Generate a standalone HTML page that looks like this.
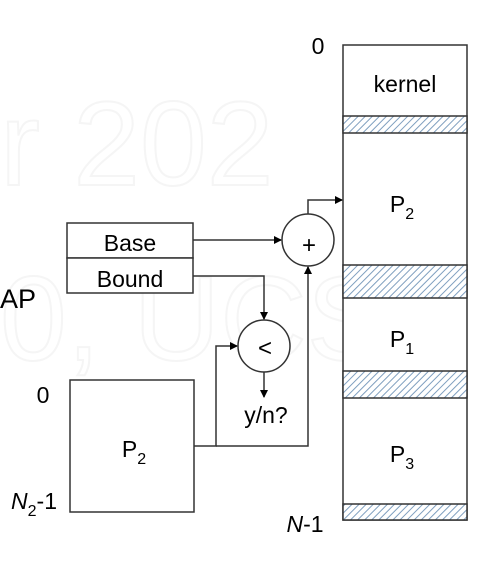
<!DOCTYPE html>
<html><head><meta charset="utf-8"><style>
html,body{margin:0;padding:0;background:#fff;width:480px;height:568px;overflow:hidden;}
svg{display:block;font-family:"Liberation Sans","DejaVu Sans",sans-serif;}
</style></head><body>
<svg width="480" height="568" viewBox="0 0 480 568">
<defs>
<pattern id="hatch" width="5" height="5" patternUnits="userSpaceOnUse" patternTransform="rotate(45)">
<rect width="5" height="5" fill="#fff"/><line x1="0" y1="0" x2="0" y2="5" stroke="#7f9fbf" stroke-width="2"/>
</pattern>
<marker id="ah" markerWidth="8" markerHeight="8" refX="7" refY="4" orient="auto" markerUnits="userSpaceOnUse"><path d="M0,0 L8,4 L0,8 z" fill="#000"/></marker>
</defs>
<g fill="none" stroke="#f5f5f5" stroke-width="2" font-size="120">
<text x="0" y="185">r 202</text>
<text x="0" y="360">0, UCS</text>
</g>
<text x="0" y="308" font-size="27" fill="#000">AP</text>
<g stroke="#333" stroke-width="1.5">
<rect x="343" y="45" width="124" height="475" fill="#fff"/>
<rect x="343" y="116" width="124" height="17" fill="url(#hatch)"/>
<rect x="343" y="265" width="124" height="33" fill="url(#hatch)"/>
<rect x="343" y="371" width="124" height="27" fill="url(#hatch)"/>
<rect x="343" y="504" width="124" height="16" fill="url(#hatch)"/>
</g>
<g font-size="23" fill="#000" text-anchor="middle">
<text x="405" y="92">kernel</text>
<text x="402" y="212">P<tspan font-size="16" dy="7">2</tspan></text>
<text x="402" y="347">P<tspan font-size="16" dy="7">1</tspan></text>
<text x="402" y="462">P<tspan font-size="16" dy="7">3</tspan></text>
<text x="318" y="54">0</text>
<text x="305" y="532"><tspan font-style="italic">N</tspan>-1</text>
<text x="43" y="403">0</text>
<text x="34" y="509"><tspan font-style="italic">N</tspan><tspan font-size="16" dy="7">2</tspan><tspan dy="-7">-1</tspan></text>
</g>
<g stroke="#333" stroke-width="1.5" fill="#fff">
<rect x="67" y="223" width="126" height="35"/>
<rect x="67" y="258" width="126" height="35"/>
<rect x="70" y="380" width="124" height="132"/>
</g>
<g font-size="23" fill="#000" text-anchor="middle">
<text x="130" y="251">Base</text>
<text x="130" y="287">Bound</text>
<text x="134" y="457">P<tspan font-size="16" dy="7">2</tspan></text>
<text x="266" y="423">y/n?</text>
</g>
<g stroke="#333" stroke-width="1.5" fill="#fff">
<circle cx="308" cy="240" r="26"/>
<circle cx="264" cy="346" r="26"/>
</g>
<text x="309" y="253" font-size="24" text-anchor="middle">+</text>
<text x="265" y="356" font-size="24" text-anchor="middle">&lt;</text>
<g stroke="#333" stroke-width="1.5" fill="none">
<line x1="193" y1="240" x2="281" y2="240" marker-end="url(#ah)"/>
<polyline points="308,214 308,200 342,200" marker-end="url(#ah)"/>
<polyline points="193,276 264,276 264,319" marker-end="url(#ah)"/>
<line x1="264" y1="372" x2="264" y2="397" marker-end="url(#ah)"/>
<polyline points="194,446 216,446 216,346 237,346" marker-end="url(#ah)"/>
<polyline points="216,446 308,446 308,267" marker-end="url(#ah)"/>
</g>
</svg>
</body></html>
